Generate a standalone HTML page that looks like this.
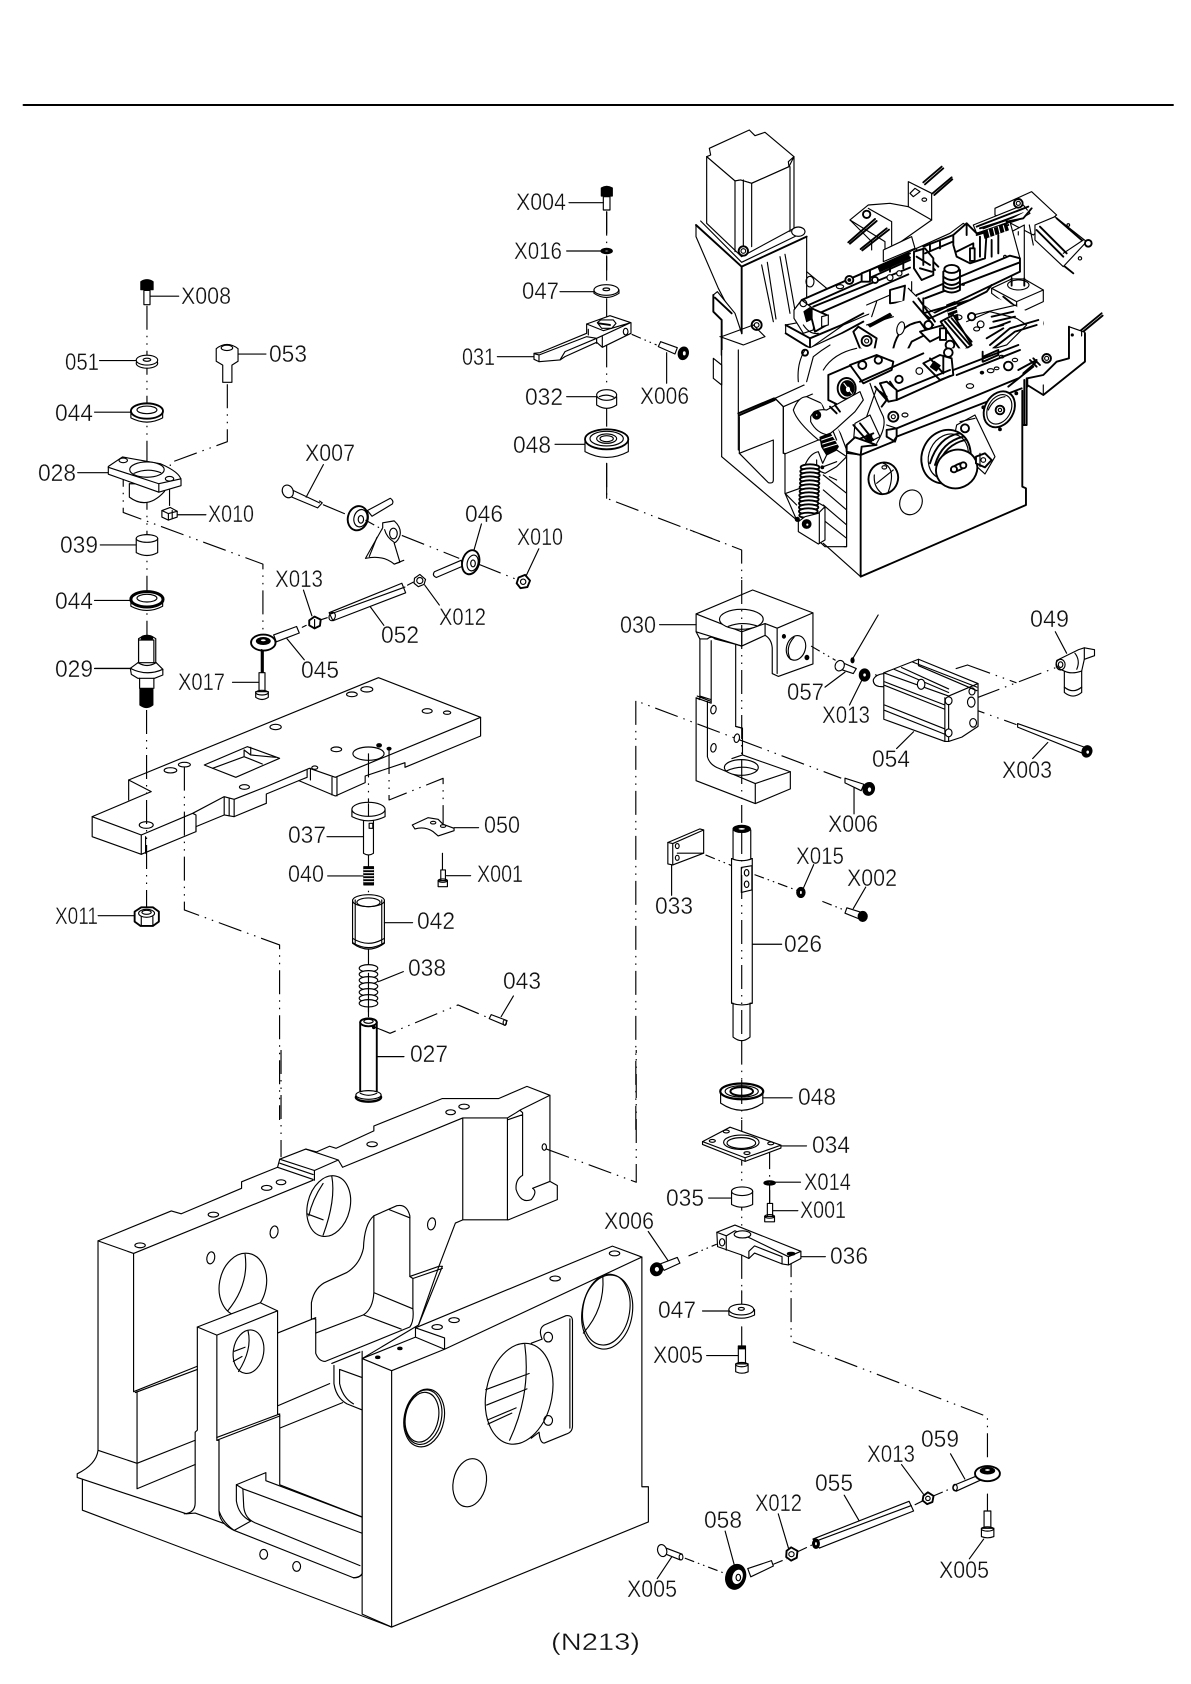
<!DOCTYPE html>
<html><head><meta charset="utf-8"><style>
html,body{margin:0;padding:0;background:#fff}
svg{display:block}
svg *{vector-effect:non-scaling-stroke}
g{fill:none;stroke:#000;stroke-width:1.15;stroke-linejoin:round;stroke-linecap:round}
.w{fill:#fff}.k{fill:#000}.h{stroke-width:1.9}
.c{fill:none;stroke-dasharray:24 6 1.5 6 1.5 6;stroke-linecap:butt}
.d{fill:none;stroke-dasharray:10 4 1.5 4 1.5 4;stroke-linecap:butt}
text{font-family:"Liberation Sans",sans-serif;font-size:24px;fill:#111;stroke:#fff;stroke-width:.35;paint-order:normal;vector-effect:none}
</style></head><body>
<svg xmlns="http://www.w3.org/2000/svg" width="1191" height="1684" viewBox="0 0 1191 1684">
<rect width="1191" height="1684" fill="#fff"/>
<g class="h"><path d="M23.5 105H1173"/></g>

<!-- Z3 big block -->
<g transform="translate(0,1050) scale(.4337,.4044)">
<path class="w" d="M226 472L395 398L418 405L557 342V326L640 290L645 270L705 245L730 252L760 238L775 243L862 200V188L1020 120H1150L1215 90L1268 112V325L1285 335V370L1172 420H1067L1050 428L1012 535L965 680L835 763V1295L450 1145L430 1147L178 1057V1048Q222 1025 226 990Z"/>
<path d="M226 472L308 503L722 322M790 290L1067 168H1170L1190 155L1200 148L1268 112M308 503V845M316 845V1085M226 990L316 1022L450 965M316 1085L450 1025M308 845L455 782M312 847L455 790M640 290L722 320M645 270L725 298V322M705 245L780 272L790 290M725 298L780 272M645 280L722 308M1067 168V420M1170 168V420M1200 150L1205 155V310Q1188 320 1190 345Q1200 380 1225 370Q1240 350 1228 342L1268 325M1205 160L1172 172"/>
<ellipse class="w" cx="758" cy="386" rx="49" ry="76" transform="rotate(12 758 386)"/>
<path d="M765 312Q775 370 745 458M745 330Q720 370 712 410M708 405L745 420"/>
<ellipse class="w" cx="560" cy="580" rx="54" ry="78" transform="rotate(10 560 580)"/>
<path d="M565 505Q575 580 525 645"/>
<path class="w" d="M718 625Q725 585 755 572L800 550Q830 530 838 490Q840 430 862 410L915 385Q938 380 945 410V560L952 565V640Q955 670 945 685L750 770Q735 770 728 750V665L718 665Z"/>
<path d="M862 410V600Q860 640 838 655L728 700M862 600L952 640M838 655L925 690M898 395L945 415M945 560L1012 535H1020L965 680M952 565L1020 540M640 700L728 662"/>
<path d="M505 1140V965M640 880L760 825M645 935L790 872M770 780V825Q775 860 800 875L835 890M765 775L830 747M783 790L835 810M783 790V825Q790 860 815 875"/>
<path class="w" d="M455 685L600 625L640 645V900L645 902V1075L835 1155V1295Q830 1305 815 1305L540 1188Q505 1170 505 1140V965L500 965V705L455 685Z"/>
<path d="M455 685V940L450 945V1120Q450 1145 425 1147M500 705L640 645M500 958L645 900M500 965L645 905M545 1075L613 1045V1065L835 1155M545 1075L560 1085L835 1195M545 1075V1115Q550 1150 578 1165L540 1188M560 1085L562 1130Q565 1160 590 1170L830 1275M505 1140Q515 1170 540 1188"/>
<ellipse class="w" cx="573" cy="746" rx="35" ry="54" transform="rotate(8 573 746)"/>
<path d="M572 695Q582 740 550 795M540 745L565 735M538 770L558 758"/>
<path class="w" d="M835 763L958 710V687L1412 485L1480 512V1080H1495V1167L903 1427L835 1395V763Z"/>
<path d="M835 763L903 793V1427M958 687L1025 712V740L1480 512M903 793L1025 740M958 710L1025 740M190 1062V1138L903 1427"/>
<path d="M835 745V1295Q830 1305 815 1305"/>
<ellipse cx="1400" cy="648" rx="58" ry="92" transform="rotate(8 1400 648)"/><ellipse cx="1398" cy="642" rx="54" ry="88" transform="rotate(8 1398 642)"/>
<path d="M1390 560Q1395 640 1345 700"/>
<path class="w" d="M1250 715Q1240 690 1255 680L1305 657Q1320 655 1320 670V930Q1320 945 1305 950L1255 972Q1245 972 1243 945L1225 960V725Z"/>
<ellipse class="w" cx="1197" cy="850" rx="76" ry="126" transform="rotate(10 1197 850)"/>
<path d="M1210 728Q1225 850 1175 965M1120 840L1220 800M1122 878L1215 838M1124 915L1190 885M1125 925L1180 898M1314 665V935"/>
<ellipse cx="1264" cy="710" rx="10" ry="12"/><ellipse cx="1264" cy="916" rx="10" ry="12"/>
<ellipse cx="978" cy="910" rx="46" ry="72" transform="rotate(10 978 910)"/><ellipse cx="976" cy="908" rx="42" ry="68" transform="rotate(10 976 908)"/><ellipse cx="973" cy="908" rx="38" ry="62" transform="rotate(10 973 908)"/>
<ellipse cx="1083" cy="1070" rx="38" ry="60" transform="rotate(10 1083 1070)"/>
<ellipse cx="323" cy="483" rx="12" ry="6"/><ellipse cx="492" cy="407" rx="12" ry="6"/><ellipse cx="615" cy="341" rx="12" ry="6"/><ellipse cx="648" cy="327" rx="11" ry="6"/><ellipse cx="858" cy="233" rx="12" ry="6"/><ellipse cx="1039" cy="154" rx="11" ry="6"/><ellipse cx="1070" cy="140" rx="12" ry="6"/><ellipse cx="632" cy="450" rx="9" ry="15" transform="rotate(10 632 450)"/><ellipse cx="486" cy="514" rx="9" ry="15" transform="rotate(10 486 514)"/><ellipse cx="995" cy="430" rx="9" ry="15" transform="rotate(10 995 430)"/><ellipse cx="1255" cy="240" rx="5" ry="8"/><ellipse cx="1008" cy="685" rx="12" ry="6"/><ellipse cx="1047" cy="668" rx="12" ry="6"/><ellipse cx="1280" cy="565" rx="12" ry="6"/><ellipse cx="1417" cy="503" rx="12" ry="6"/><ellipse class="k" cx="871" cy="760" rx="5" ry="3"/><ellipse class="k" cx="922" cy="738" rx="5" ry="3"/><ellipse cx="608" cy="1247" rx="9" ry="12"/><ellipse cx="684" cy="1277" rx="9" ry="12"/>
<path class="c" d="M648 0V265M1260 245L1467 327V0"/>
</g>

<!-- Machine, upper half -->
<g transform="translate(690,125) scale(.3333)">
<path class="w" d="M58 70L178 15L195 32L225 22L312 95L295 110L297 125L185 175L152 165L135 168L50 95L62 90Z"/>
<path class="w" d="M50 95V295L155 395L312 310V95L297 125L185 175L152 165L135 168Z"/>
<path d="M135 168V380M160 165V365M185 175V365M300 125V320"/>
<path class="w" stroke="none" d="M18 300L32 288L155 412L345 320L350 335V600L200 660L155 625L85 490L18 335Z"/>
<path d="M18 300V335L85 490L155 625M350 335V540M32 288L155 412L345 320"/>
<path class="h" d="M18 300L155 425L350 335M155 425V625"/>
<path d="M215 420L250 590M232 412L258 582M270 395L300 565M285 388L315 556M350 440L410 490L320 545"/>
<circle class="w h" cx="160" cy="378" r="14"/><circle cx="160" cy="378" r="7"/><ellipse class="w" cx="325" cy="320" rx="20" ry="14"/><circle class="w h" cx="200" cy="600" r="15"/><circle cx="200" cy="600" r="7"/><ellipse cx="360" cy="470" rx="12" ry="16"/>
<path class="w" stroke="none" d="M70 510L82 500L135 565L155 625L95 650V690H70V560Z"/><path class="h" d="M75 518L125 565M70 510V560L95 585V690"/><path d="M70 510L82 500L135 565L155 625"/>
<path d="M95 635L190 600L225 635L160 660L90 635"/>

<!-- top brackets -->
<path class="h" d="M700 172L755 125M705 178L760 130M728 205L785 157M733 210L787 163"/>
<path class="w" d="M655 170L725 205V285L612 365L585 378V350L480 285L535 240L600 235L655 245Z"/>
<path d="M655 245L725 285M605 290V360M535 250L605 290M480 285L545 350V375"/>
<path class="w" d="M660 205L675 190L690 200L670 215Z"/><ellipse cx="703" cy="224" rx="7" ry="5"/>
<circle class="w h" cx="530" cy="268" r="11"/><path class="h" d="M475 352L555 282M480 356L560 288M512 372L590 310M517 376L597 314"/>
<path class="w" d="M580 375L665 335L675 370L580 410Z"/>

<!-- right arm & cylinder -->
<path class="w" d="M915 250L1025 200L1100 270L1030 330L915 270Z"/>
<path class="w" d="M1035 300L1095 275L1190 350L1120 425L1035 345Z"/>
<path class="h" d="M1040 315L1120 395M1050 305L1130 385M1100 280L1175 345M1125 425L1150 445"/>
<path d="M1120 385L1180 345"/><circle class="w h" cx="1195" cy="355" r="10"/><circle cx="1170" cy="400" r="5"/><circle cx="1135" cy="300" r="4"/>
<path class="w" d="M965 320L1003 300V485H965Z"/><path d="M1018 300L1030 360M985 320V330"/>
<path class="w" d="M905 490L965 462L1003 462L1060 495V530L985 565L905 505Z"/><path d="M905 490L980 530V565M980 530L1060 495"/><ellipse class="w" cx="985" cy="480" rx="32" ry="15"/><path class="h" d="M965 460V482M1003 460V482"/>
<path class="h" d="M940 515L1045 600M930 525L1030 610"/><circle class="w h" cx="1048" cy="595" r="11"/>
<path class="w" d="M850 300L1000 240L1020 265L985 285L860 325Z"/><path class="h" d="M860 305L1015 245M880 310L1000 265"/>
<circle class="w h" cx="985" cy="235" r="13"/><circle cx="985" cy="235" r="6"/><path class="w h" d="M950 290L1000 280L1025 250"/>

<!-- central upper rail assembly -->
<path class="w" d="M312 555L335 525L660 380L680 370L780 325L820 295L860 325L960 290L990 400V440L730 565L705 545L680 520L530 570L460 600L360 670L287 625V600L340 590Z"/>
<path class="h" d="M335 525L655 385M345 545L660 405M370 545L660 428M375 570L655 448M287 600L360 640V670L287 625M360 640L455 600L520 565M360 670L455 625L520 590M680 510L960 392L990 400V440M705 520L990 412M705 545L730 565L990 440"/>
<path class="w" d="M312 555L335 525L375 555L370 615L340 625L312 580Z"/>
<path class="k" d="M342 560L360 548L370 580L350 590Z"/><circle cx="340" cy="535" r="10"/>
<path class="w h" d="M365 550L410 570V600L375 620L365 580Z"/><path class="w" d="M395 575L415 570V600L395 605Z"/>
<path d="M340 600Q360 630 385 625"/>
<path class="h" d="M570 425L660 385M575 435L660 398M600 410V440M640 395V430M680 375L735 435M695 375L745 425"/>
<path class="k" d="M565 428L655 388L660 400L570 440Z"/>
<path class="w h" d="M515 445L540 435V470H515Z"/><circle class="w h" cx="478" cy="465" r="12"/><circle class="k" cx="478" cy="465" r="4"/><ellipse cx="450" cy="485" rx="11" ry="6"/><circle class="w h" cx="555" cy="465" r="9"/><circle class="w" cx="600" cy="458" r="9"/><circle class="w" cx="628" cy="445" r="8"/>
<path class="w h" d="M600 495L645 482L640 530L600 535Z"/><path d="M655 490L680 515M665 470V500"/>
<path class="w h" d="M672 380L705 370L730 400V450L695 465L672 430Z"/><path class="h" d="M680 395L720 420M700 375V420M690 430L725 440"/>
<path class="h" d="M700 365L790 330M705 385L800 345M720 355V375M750 350V370"/>
<path class="w h" d="M790 330L830 295L860 325L890 320L885 400L840 415L800 395L790 360Z"/>
<path class="h" d="M800 380L850 355V410M830 295V330M870 335V395M900 320L960 290M905 345V395M925 330V385M860 330L955 300M870 310L950 285"/>
<rect class="w h" x="840" y="370" width="14" height="38"/>
<path class="k" d="M880 320L950 300L955 315L885 340Z"/><path stroke="#fff" d="M895 315L900 335M910 310L915 330M925 305L930 325M940 302L945 320"/>
<path class="w h" d="M760 440Q785 415 810 435V495Q785 510 760 495Z"/><path class="h" d="M760 455Q785 475 810 455M760 470Q785 490 810 470M760 482Q785 500 810 482"/><ellipse class="w h" cx="785" cy="432" rx="22" ry="12"/>
<circle cx="945" cy="395" r="4"/><circle cx="820" cy="478" r="3"/>

<path class="w" stroke="none" d="M360 670L460 625L530 590L540 560L680 515L705 545L740 570L830 545L900 510L1060 580V610L1000 650L840 690H300V650Z"/>
<path class="h" d="M905 480L890 500L840 525L700 565V520M700 565L720 580L840 525"/>
<path d="M530 540L600 510M545 575L560 530"/>
<path class="k" d="M535 600L600 565L605 572L540 606Z"/><path d="M530 600L610 575"/>
<path class="h" d="M670 530L730 600M685 520L735 590"/>
<path class="w h" d="M610 670Q625 600 690 590L715 625L665 650L645 690H610Z"/><ellipse class="w" cx="632" cy="610" rx="11" ry="20" transform="rotate(15 632 610)"/>
<path class="w h" d="M490 620L505 605L560 640L550 690L510 670Z"/><circle class="w h" cx="530" cy="648" r="15"/><circle cx="530" cy="648" r="6"/>
<path class="w h" d="M690 620L760 600L770 625L720 650Z"/><circle class="w h" cx="715" cy="600" r="12"/>
<path class="k" d="M770 540L795 530L805 585L780 590Z"/><path stroke="#fff" d="M772 550L800 540M775 562L802 552M778 574L804 564"/>
<path class="w h" d="M752 590L790 570L845 660L815 680Z"/><path class="h" d="M765 590L830 665M775 585L838 658M785 580L845 650"/>
<rect class="w h" x="750" y="610" width="18" height="35"/>
<path d="M830 590L900 560L980 580L1010 600L950 660L880 680M850 570L980 540"/>
<circle class="w h" cx="845" cy="575" r="11"/><circle class="w" cx="872" cy="598" r="10"/><ellipse cx="805" cy="577" rx="11" ry="7"/><ellipse cx="860" cy="612" rx="9" ry="6"/>
<path class="h" d="M905 575L970 560M910 590L975 575M920 605L960 590M900 610L940 600"/>
<path class="h" d="M900 660L960 610L1045 585M910 670L975 620L1040 600M890 640L940 610"/>
<circle class="w h" cx="780" cy="660" r="13"/>
<!-- right lower bracket top -->
<path class="h" d="M1150 635L1235 565M1153 642L1238 572"/>
<path class="w" stroke="none" d="M1137 605L1185 622V690H1137Z"/><path d="M1137 605L1185 622V690M1137 605V690M1175 620V690"/><circle class="k" cx="1147" cy="630" r="3"/>
</g>

<!-- Machine, lower half -->
<g transform="translate(690,350) scale(.3333)">
<path class="w" stroke="none" d="M95 0H145V190L255 145L375 90L400 115L470 305V590L400 580L320 510L95 320Z"/>
<path d="M95 0V320M145 0V190"/>
<path class="w" d="M70 25L95 45V105L70 85Z"/>
<path d="M145 190V300M95 320L320 510"/>
<path class="h" d="M145 190L252 145M147 196L254 150"/>
<path class="w" d="M148 310L250 270V390Q250 402 235 398Z"/><path d="M148 200V310"/>
<path class="w" d="M255 145L375 90L400 115L470 300V590H405L320 510L285 430V310L280 310V170Z"/>
<path d="M255 145L280 170V310M280 170L395 120M284 312L385 270M288 430L330 415M285 430L320 465"/>
<path d="M400 375L470 430M400 420L470 480M400 465L470 525M400 510L470 565M470 300V590H462"/>
<path class="w" d="M310 180Q325 140 350 140L395 160L440 270L385 270Q320 215 310 180Z"/>
<!-- upper mechanism -->
<path class="w" stroke="none" d="M330 90L400 40L410 -5H1010V85L620 260L590 240L550 290L480 290L440 230L395 160Z"/>
<path d="M325 95Q320 40 345 0M350 95L370 20Q395 0 420 -15M400 60Q430 10 500 -5"/><circle class="h" cx="345" cy="8" r="9"/>
<path class="h" d="M415 75V150M415 75L520 30M415 150L445 165"/>
<path class="w h" d="M480 45L560 15L610 35L605 60L520 100Z"/><circle class="w h" cx="517" cy="45" r="12"/><circle class="w h" cx="565" cy="30" r="11"/>
<path class="h" d="M510 95L700 10M570 100L620 150L780 78M580 100L620 125L780 60M600 95L620 125V150"/>
<path class="h" d="M700 40L750 90L790 75L785 25L750 15L700 40M720 25L760 70M760 20V70"/>
<rect class="k" x="725" y="38" width="22" height="20" transform="rotate(35 735 48)"/>
<circle class="w h" cx="627" cy="88" r="11"/><circle class="w" cx="688" cy="63" r="10"/><circle class="w h" cx="775" cy="8" r="13"/>
<path class="h" d="M880 35L925 15M880 20L925 0M878 5V35M925 0V15M790 60L985 -15M800 75L990 0"/>
<path class="w h" d="M590 95L620 120V150L595 155L570 100Z"/><path class="h" d="M555 110L590 150L575 170M570 125L590 140"/>
<ellipse class="w h" cx="470" cy="115" rx="27" ry="31"/><ellipse class="k" cx="472" cy="115" rx="20" ry="23"/><ellipse cx="474" cy="118" rx="8" ry="10" fill="#fff"/><path stroke="#fff" d="M462 100L485 130"/>
<ellipse class="w" cx="492" cy="166" rx="12" ry="14"/>
<path class="w" d="M362 200Q375 175 410 180L510 125L520 150L495 185L440 235L415 255Q380 250 362 215Z"/>
<path class="h" d="M420 170L440 190M435 165L450 185"/><circle class="k" cx="380" cy="195" r="12"/><circle cx="380" cy="195" r="4" fill="#fff"/>
<path class="k" d="M390 262L420 250L445 290L430 312L410 315L395 290Z"/><path stroke="#fff" d="M395 270L430 258M398 282L437 270M402 294L442 282"/>
<path class="w" d="M495 220L540 195L570 260L520 285L490 280Z"/><path class="h" d="M490 225L530 270M510 220L550 270M500 270L550 250"/><circle class="k" cx="500" cy="275" r="10"/><rect class="k" x="530" y="255" width="15" height="20"/>
<path d="M560 115L530 200M540 100Q560 160 580 200Q590 230 560 280"/>
<circle class="w h" cx="610" cy="200" r="15"/><circle cx="610" cy="200" r="6"/><ellipse cx="645" cy="195" rx="9" ry="6"/>
<path class="w" d="M410 315L440 300L470 320L440 350L405 370L385 362Q365 355 345 345Q360 310 385 305L398 340Z"/>
<path d="M400 350L440 335M380 330L380 360"/><circle class="k" cx="397" cy="352" r="4"/>
<path d="M418 380L440 390"/>

<!-- spring -->
<g class="h"><ellipse class="w" cx="360" cy="352" rx="28" ry="9"/><ellipse class="w" cx="360" cy="364" rx="29" ry="9"/><ellipse class="w" cx="360" cy="376" rx="29" ry="9"/><ellipse class="w" cx="359" cy="388" rx="29" ry="9"/><ellipse class="w" cx="359" cy="400" rx="29" ry="9"/><ellipse class="w" cx="358" cy="412" rx="29" ry="9"/><ellipse class="w" cx="358" cy="424" rx="29" ry="9"/><ellipse class="w" cx="357" cy="436" rx="29" ry="9"/><ellipse class="w" cx="357" cy="448" rx="29" ry="9"/><ellipse class="w" cx="356" cy="460" rx="29" ry="9"/><ellipse class="w" cx="356" cy="472" rx="29" ry="9"/><ellipse class="w" cx="355" cy="484" rx="28" ry="9"/><ellipse class="w" cx="354" cy="496" rx="26" ry="8"/></g>
<path class="w" d="M325 515L345 500L385 490L405 470V570L385 582L325 545Z"/><circle class="k" cx="350" cy="522" r="13"/><circle cx="352" cy="524" r="5" fill="#fff"/><circle class="k" cx="322" cy="508" r="6"/><path d="M388 460L405 470M388 490V580"/>

<!-- front wall -->
<path class="w" d="M470 310L512 315L995 120V415H1008V465L512 680L470 640Z" stroke="none"/>
<path d="M470 310L512 315M470 305V590M400 580L512 680"/>
<path class="h" d="M512 315V680L1008 465V415L997 410V122"/>
<path class="h" d="M512 315L610 275L620 260M620 260L995 115M620 235L985 85"/>
<path class="w h" d="M470 285L495 262L560 285L515 290L512 315L470 305Z" stroke-width="1.2"/>
<path class="h" d="M590 240L620 235V260L615 275L590 260Z"/><path d="M590 225L620 235"/>
<path class="h" d="M955 110L1030 50"/>
<ellipse cx="840" cy="108" rx="11" ry="7"/><ellipse cx="902" cy="62" rx="10" ry="6"/><ellipse class="k" cx="876" cy="68" rx="5" ry="4"/><ellipse cx="920" cy="55" rx="7" ry="4"/><circle class="w h" cx="955" cy="48" r="13"/><ellipse cx="975" cy="30" rx="8" ry="5"/><ellipse cx="935" cy="20" rx="7" ry="4"/>
<path class="h" d="M1000 225H1010V85M1003 90V225"/>
<path class="w h" d="M1012 110V85L1060 75L1100 35L1137 25V-70M1185 -50V35L1060 135L1012 105"/><path d="M1060 105V135"/>
<path class="h" d="M985 60L1040 30M1000 70L1040 35"/><circle class="w h" cx="1070" cy="25" r="13"/><circle cx="1070" cy="25" r="6"/><path class="h" d="M1020 30L1040 50M1030 25L1050 45"/>
<!-- spools -->
<path class="w" d="M800 225L855 195L915 320L885 372L855 345L795 250Z"/><circle class="w h" cx="825" cy="235" r="12"/><path d="M810 215L855 205"/>
<ellipse class="w h" cx="768" cy="320" rx="72" ry="82" transform="rotate(25 768 320)"/><ellipse cx="775" cy="320" rx="58" ry="70" transform="rotate(25 775 320)"/><path class="h" d="M720 340Q745 260 810 250M735 345Q755 275 820 260M745 345Q765 285 825 270"/>
<ellipse class="w h" cx="800" cy="357" rx="63" ry="57" transform="rotate(-25 800 357)"/><ellipse class="w h" cx="805" cy="352" rx="24" ry="9" transform="rotate(-25 805 352)"/><circle class="w h" cx="792" cy="358" r="9"/><circle class="w h" cx="820" cy="346" r="9"/>
<path class="w h" d="M858 320L885 310L905 330L885 352L858 340Z"/><path d="M870 310V350"/><circle cx="880" cy="330" r="7"/>
<ellipse class="w h" cx="928" cy="178" rx="43" ry="57" transform="rotate(30 928 178)"/><ellipse cx="928" cy="178" rx="34" ry="47" transform="rotate(30 928 178)"/><circle class="w h" cx="930" cy="180" r="13"/><circle cx="930" cy="180" r="5"/><path d="M895 180Q910 145 945 140"/><circle class="k" cx="979" cy="130" r="4"/><circle class="k" cx="930" cy="238" r="4"/><circle class="k" cx="880" cy="172" r="4"/>
<!-- knob -->
<ellipse class="w h" cx="580" cy="385" rx="44" ry="48" transform="rotate(20 580 385)"/><path d="M580 340Q620 355 595 425M553 375Q550 410 575 430M610 360L560 400"/><ellipse cx="583" cy="352" rx="7" ry="5"/>
<ellipse cx="663" cy="457" rx="33" ry="38" transform="rotate(25 663 457)"/>
<path class="c" d="M0 540L155 600V700"/>
</g>

<!-- Z1 upper-left parts -->
<g transform="translate(0,80) scale(.3827)">
<path class="c" d="M384 590V1450M594 795V945L445 1000V1030M322 1000V1130L687 1265V1450M443 1050V1115"/>
<path class="k" d="M368 527Q384 517 400 527V548H368Z"/><path class="w" d="M376 550H392V587H376Z"/><path d="M392 565H467M260 733H356M247 868H342M203 1026H283M463 1136H538M262 1215H356M247 1360H342M622 716H695M247 1538H345"/>
<ellipse class="w" cx="384" cy="740" rx="28" ry="13"/><ellipse class="w" cx="384" cy="732" rx="28" ry="13"/><ellipse cx="384" cy="731" rx="10" ry="4"/>
<path class="w" d="M565 702Q593 680 622 702V735L606 745V790H582V745L565 735Z"/><ellipse cx="593" cy="700" rx="15" ry="7"/>
<g id="b1"><path class="w" d="M342 865V883Q384 905 425 883V865"/><ellipse class="w h" cx="384" cy="865" rx="42" ry="20" stroke-width="3"/><ellipse class="w" cx="384" cy="862" rx="26" ry="10"/></g>
<path class="w" d="M338 1055V1090Q385 1125 430 1075V1055Z"/>
<path class="w" d="M283 1010L320 985L420 1003Q470 1025 473 1045V1060L415 1077L283 1030Z"/>
<path d="M283 1012L415 1055L473 1042M415 1055V1077"/><ellipse class="w" cx="384" cy="1018" rx="45" ry="20"/><path d="M350 1028Q384 1012 420 1026"/><ellipse cx="322" cy="994" rx="11" ry="6"/><ellipse cx="443" cy="1042" rx="11" ry="6"/>
<path class="w" d="M423 1125L445 1117L463 1127V1142L440 1150L423 1142Z"/><path d="M423 1125L440 1133V1150M440 1133L463 1127M450 1125V1145"/>
<path class="w" d="M356 1198Q384 1178 412 1198V1235Q384 1250 356 1235Z"/><ellipse class="w" cx="384" cy="1198" rx="28" ry="10"/>
<path class="w" d="M342 1357V1375Q384 1397 425 1375V1357"/><ellipse class="w" cx="384" cy="1357" rx="42" ry="20" stroke-width="3"/><ellipse class="w" cx="384" cy="1354" rx="26" ry="10"/>
<path class="w" d="M362 1460Q385 1442 407 1460V1530H362Z"/><ellipse class="k" cx="384" cy="1458" rx="15" ry="7"/>
<path d="M765 1072L835 1105M758 1088L830 1118M835 1100L842 1105L830 1118M845 1005L800 1090M845 1110L900 1133"/><ellipse class="w" cx="752" cy="1075" rx="14" ry="17" transform="rotate(-25 752 1075)"/>
<path class="w" d="M960 1125L1020 1093Q1030 1100 1025 1108L972 1140Z"/>
<ellipse class="w h" cx="935" cy="1145" rx="26" ry="32" transform="rotate(15 935 1145)"/><ellipse cx="942" cy="1145" rx="17" ry="23" transform="rotate(15 942 1145)"/><ellipse cx="943" cy="1148" rx="7" ry="10"/>
<path class="w" d="M1000 1157L1030 1152Q1050 1170 1045 1190Q1040 1205 1030 1210L1045 1260L1030 1265Q1000 1240 955 1250L1000 1170Z"/><ellipse cx="1028" cy="1185" rx="10" ry="14"/><path d="M1005 1175Q1010 1195 1030 1208M985 1195L965 1245M1030 1265L1055 1255"/>
<path class="c" d="M1050 1190L1200 1250M1250 1265L1350 1305"/><path class="d" d="M955 1150L1000 1175"/>
<path class="w" d="M1135 1285L1205 1255L1210 1270L1140 1300Q1128 1295 1135 1285Z"/><ellipse class="w h" cx="1230" cy="1260" rx="22" ry="32" transform="rotate(15 1230 1260)"/><ellipse cx="1235" cy="1262" rx="14" ry="21" transform="rotate(15 1235 1262)"/><ellipse cx="1236" cy="1263" rx="6" ry="9"/><path d="M1258 1160L1238 1230"/>
<path class="w" d="M1083 1302L1097 1292L1112 1305L1108 1318L1093 1324L1082 1315Z"/><circle cx="1097" cy="1308" r="8"/><path d="M1110 1320L1148 1372M1065 1320L1080 1312"/>
<path class="w h" d="M1355 1300L1372 1293L1385 1308L1378 1325L1360 1328L1350 1315Z"/><circle cx="1367" cy="1311" r="7"/><path d="M1408 1225L1375 1295"/>
<path class="w" d="M860 1392L1050 1315L1060 1340L870 1413Z"/><path d="M865 1395L1058 1325"/><ellipse cx="868" cy="1402" rx="8" ry="11" transform="rotate(20 868 1402)"/><path d="M968 1377L1003 1425"/>
<path class="w" d="M715 1450L775 1428L782 1445L722 1468Z"/><ellipse class="w h" cx="688" cy="1470" rx="32" ry="21"/><ellipse class="k" cx="688" cy="1466" rx="18" ry="9"/><ellipse cx="688" cy="1464" rx="8" ry="4" fill="#fff"/><path d="M750 1460L795 1515M793 1333L815 1400M790 1430L800 1425M840 1410L855 1405"/>
<path class="w h" d="M808 1412L822 1402L838 1410L836 1426L822 1433L808 1425Z"/><path d="M822 1410V1430"/>
<path class="h" d="M687 1492V1548"/>
</g>

<!-- Z5 plate & center parts -->
<g transform="translate(60,640) scale(.3317,.3333)">
<path class="w" d="M237 0V70H283V0Z"/>
<path class="w" d="M212 85L235 68H290L310 88V105L285 115H235L215 103Z"/><path d="M235 68Q262 85 290 68M212 85Q262 110 310 88M105 85H215M240 115V145M283 115V145"/>
<path class="k" d="M241 145H280V195Q262 210 241 195Z"/>
<path d="M520 127H598"/><path class="w" d="M600 98H618V155H600Z"/><path class="w" d="M590 155H628V172Q609 185 590 172Z"/><ellipse cx="609" cy="158" rx="19" ry="7"/><path class="h" d="M608 30V95"/>
<path class="w" d="M207 420L960 113L1268 232V288L1040 382V368L920 408V428L830 468L720 422L622 462V490L525 530L495 525L410 560V575L245 643L97 590V530L275 455L207 420Z"/>
<path d="M97 530L245 585L400 520L495 470L525 478L622 440L745 388L752 385L830 412L1268 232M245 585V643M258 590V640M495 470V525M510 475V528M525 478V530M820 412V465M835 412V468M745 388V412M755 385V420M207 420V480M720 422L745 412M400 520L410 525V575"/>
<path class="w" d="M435 375L565 320L662 355L530 412Z"/><path d="M460 385L555 350L610 372M555 330L575 345V322M555 350V330M575 345L650 352"/>
<ellipse cx="880" cy="163" rx="16" ry="7"/><ellipse cx="925" cy="148" rx="18" ry="8"/><ellipse cx="650" cy="261" rx="17" ry="8"/><ellipse cx="1107" cy="213" rx="15" ry="7"/><ellipse cx="1167" cy="218" rx="11" ry="5"/><ellipse cx="833" cy="328" rx="16" ry="7"/><ellipse cx="930" cy="341" rx="47" ry="20"/><ellipse class="k" cx="962" cy="316" rx="7" ry="5"/><ellipse class="k" cx="992" cy="326" rx="6" ry="4"/><ellipse cx="333" cy="391" rx="19" ry="8"/><ellipse cx="375" cy="374" rx="18" ry="7"/><ellipse cx="556" cy="441" rx="15" ry="7"/><ellipse cx="768" cy="383" rx="9" ry="5"/><ellipse cx="260" cy="555" rx="21" ry="10"/>
<path class="c" d="M261 210V800M375 380V810L662 915V1440M930 340V490M930 640V1140M992 330V480L1155 415V560"/>
<path d="M1153 640V690"/>
<path class="w" d="M915 530H945V640Q930 650 915 640Z"/><path class="w" d="M880 510V530Q930 555 980 530V510"/><ellipse class="w" cx="930" cy="508" rx="50" ry="21"/><path d="M932 550H943V565H932ZM805 590H915M807 708H915"/><path class="c" d="M930 490V530"/>
<rect class="k" x="916" y="680" width="29" height="55"/><path stroke="#fff" d="M916 689H945M916 698H945M916 707H945M916 716H945M916 725H945"/>
<path class="w" d="M882 782V910Q930 945 978 910V782Z"/><ellipse class="w" cx="930" cy="782" rx="48" ry="18"/><ellipse cx="930" cy="787" rx="35" ry="13"/><path d="M882 895Q930 925 978 895M882 908Q930 938 978 908M890 780V910M970 780V910M978 848H1063"/>
<path d="M960 1025L1035 995M955 1250H1037M1367 1068L1330 1130"/>
<ellipse class="w" cx="930" cy="985" rx="28" ry="11"/><ellipse class="w" cx="930" cy="1003" rx="28" ry="11"/><ellipse class="w" cx="930" cy="1021" rx="28" ry="11"/><ellipse class="w" cx="930" cy="1039" rx="28" ry="11"/><ellipse class="w" cx="930" cy="1057" rx="28" ry="11"/><ellipse class="w" cx="930" cy="1075" rx="28" ry="11"/><ellipse class="w" cx="930" cy="1090" rx="28" ry="11"/>
<path d="M930 1000V1130"/>
<path class="w h" d="M905 1147V1360H955V1147Z"/><ellipse class="w h" cx="930" cy="1147" rx="25" ry="12"/><ellipse cx="930" cy="1144" rx="14" ry="6"/>
<ellipse class="w" cx="930" cy="1372" rx="38" ry="13" stroke-width="2.4"/><ellipse class="w" cx="930" cy="1365" rx="38" ry="13"/><path class="w" d="M905 1360Q930 1372 955 1360"/>
<circle class="k" cx="946" cy="1162" r="4"/>
<path class="c" d="M945 1160L995 1180L1200 1095L1295 1135" stroke-dasharray="50 6 1.5 6 1.5 6"/>
<path class="w" d="M1300 1124L1348 1142L1342 1156L1294 1136Z"/><ellipse cx="1341" cy="1148" rx="5" ry="8"/>
<path class="w" d="M1062 555L1110 533L1140 538L1155 553L1188 565V572L1140 588L1125 575Q1100 558 1070 567Z"/><ellipse cx="1125" cy="548" rx="8" ry="4"/><ellipse cx="1155" cy="558" rx="8" ry="4"/><path d="M1188 563H1262M1165 707H1238M115 827H225"/>
<path class="w" d="M1148 690H1162V722H1148Z"/><path class="w" d="M1140 722H1168V740H1140Z"/><ellipse cx="1154" cy="722" rx="14" ry="5"/>
<path class="w h" d="M225 815L245 802H280L298 815V845L280 858H243L225 845Z"/><ellipse cx="261" cy="820" rx="24" ry="12"/><ellipse cx="261" cy="817" rx="14" ry="6"/><path d="M245 830V858M280 830V858"/>
</g>

<!-- Z7 top centre parts -->
<g transform="translate(440,170) scale(.3333)">
<path class="c" d="M500 125V240M500 260V340M500 385V650M500 700V770"/>
<path d="M500 125V190M500 258V300M500 880V985"/>
<path class="c" d="M500 880V985L840 1115"/>
<path class="k" d="M484 54Q500 44 517 54V78H484Z"/><path class="w" d="M490 80H510V120H490Z"/><path d="M387 98H490M380 243H484M360 365H462M172 560H282M380 680H470M345 823H435M680 548V640"/>
<ellipse class="k" cx="500" cy="243" rx="17" ry="8"/><ellipse cx="500" cy="243" rx="7" ry="3" fill="#fff"/>
<path class="w" d="M462 360V370Q499 395 537 370V360"/><ellipse class="w" cx="499" cy="360" rx="37" ry="16"/><ellipse cx="499" cy="358" rx="10" ry="4"/>
<path class="w" d="M282 550L300 548L440 490V462L510 437L573 458V490L487 532L470 517L375 560L360 570L297 575L282 568Z"/>
<path d="M285 552L297 555V575M297 555L440 500L470 505V520M360 570L375 545L470 505M470 505L572 458M487 530V500M440 462L490 482L572 458M445 478V495"/>
<path class="w" d="M472 458L482 450H520L528 460L515 475H485Z"/><ellipse cx="557" cy="485" rx="7" ry="10"/><path class="h" d="M475 460L510 465"/>
<path class="w" d="M470 680V705Q500 725 530 705V680Z"/><ellipse class="w" cx="500" cy="675" rx="30" ry="16"/><path d="M478 680Q500 670 522 682"/>
<path class="w" d="M435 810V845Q500 880 565 845V810Z"/><ellipse class="w" cx="500" cy="808" rx="65" ry="30" stroke-width="1.8"/><ellipse cx="500" cy="806" rx="50" ry="22"/><ellipse cx="500" cy="806" rx="30" ry="14"/><ellipse cx="500" cy="806" rx="20" ry="9"/>
<path class="d" d="M575 493L650 525"/>
<path class="w" d="M662 515L712 533L705 552L655 530Z"/><ellipse class="k" cx="730" cy="550" rx="15" ry="19" transform="rotate(15 730 550)"/><ellipse cx="733" cy="550" rx="6" ry="8" fill="#fff"/>
</g>

<!-- Z4 right-mid parts -->
<g transform="translate(600,580) scale(.3769,.3571)">
<path class="w" d="M255 95L405 28L565 92V235L473 270L457 262V190Q455 165 438 155L376 185L360 180V410L378 415V490L505 537V585L412 626L255 562V330L265 335V165L255 145Z"/>
<path d="M255 95L376 145L438 122L470 135L565 92M376 145V185M255 145L376 185M438 122V155M470 135V262M265 165H285Q295 155 305 165L360 180M295 170V338M265 325L295 335V345L255 330M258 325L295 340M285 340V495Q290 515 310 525L412 570L505 537M412 570V626M378 490L350 500M360 410L378 415"/>
<ellipse class="w" cx="375" cy="110" rx="58" ry="28"/><path d="M340 130Q375 115 415 128"/>
<ellipse cx="520" cy="190" rx="25" ry="35" transform="rotate(15 520 190)"/><path d="M515 160Q490 190 505 222"/><ellipse class="k" cx="488" cy="158" rx="4" ry="5"/><ellipse class="k" cx="549" cy="217" rx="5" ry="6"/>
<ellipse cx="301" cy="363" rx="7" ry="12" transform="rotate(10 301 363)"/><ellipse cx="301" cy="470" rx="7" ry="12" transform="rotate(10 301 470)"/><ellipse cx="363" cy="443" rx="7" ry="12" transform="rotate(10 363 443)"/>
<ellipse class="w" cx="375" cy="525" rx="45" ry="22"/><path d="M335 535Q375 515 415 532"/>
<path d="M158 125H255M668 225L738 98M597 300L650 258M662 350L695 280M832 425L787 472M1208 145L1238 205M1188 455L1148 500M674 580V655M190 798V883M403 1020H482M567 797L540 862M705 860L672 920M433 1450H510M945 248L975 238"/>
<path class="c" d="M376 0V680M95 1540V338L640 555M975 238L1105 288M1000 330L1210 245M960 350L1105 405M376 1290V1410"/>
<path class="d" d="M560 185L625 225M730 265L745 272M280 770L350 800M410 825L525 870M590 900L650 925"/>
<path class="w" d="M640 230L680 248L672 262L632 248Z"/><ellipse class="w" cx="636" cy="240" rx="12" ry="15" transform="rotate(20 636 240)"/><ellipse class="k" cx="670" cy="225" rx="4" ry="7"/>
<ellipse class="k" cx="702" cy="266" rx="14" ry="17"/><ellipse cx="702" cy="266" rx="5" ry="6" fill="#fff"/>
<path class="w" d="M725 280Q730 265 753 262L765 300L740 298Q725 295 725 280Z"/>
<path class="w" d="M753 260L845 222L1003 290V410L960 440L925 452H915L753 390Z"/>
<path d="M753 260L925 325L1003 290M780 250L925 315M830 230L1000 300M925 325V452M915 330V452M755 350L915 417M755 365L915 432M755 285L915 350M755 295L915 362M845 222V240L1000 310M800 245L925 305"/>
<ellipse class="w" cx="852" cy="292" rx="10" ry="14"/><ellipse cx="985" cy="342" rx="10" ry="14"/><ellipse cx="987" cy="312" rx="8" ry="10"/><ellipse cx="990" cy="400" rx="9" ry="12"/><ellipse class="w" cx="925" cy="338" rx="9" ry="11"/><ellipse class="w" cx="925" cy="428" rx="9" ry="11"/>
<path class="w" d="M1232 255H1278V315Q1255 335 1232 315Z"/><path d="M1232 300Q1255 320 1278 300"/>
<path class="w" d="M1212 225L1270 195L1285 190L1312 195V212L1285 222L1278 255Q1250 265 1232 255Q1205 245 1212 225Z"/>
<ellipse cx="1222" cy="237" rx="12" ry="15"/><ellipse cx="1222" cy="237" rx="6" ry="8"/><path d="M1260 205Q1275 225 1265 250M1285 190V222"/>
<path class="w" d="M1108 402L1285 468L1280 485L1108 412Z"/><ellipse class="k" cx="1292" cy="480" rx="13" ry="16" transform="rotate(15 1292 480)"/><ellipse cx="1294" cy="482" rx="5" ry="6" fill="#fff"/>
<path class="w" d="M650 555L700 572L693 590L650 568Z"/><ellipse class="k" cx="713" cy="585" rx="15" ry="18" transform="rotate(15 713 585)"/><ellipse cx="715" cy="587" rx="6" ry="8" fill="#fff"/>
<path class="w" d="M180 735L265 697L275 700V765L193 798L180 795Z"/><path d="M180 735L193 738V798M193 738L275 700M205 765L275 765"/><ellipse cx="205" cy="745" rx="5" ry="7"/><ellipse cx="205" cy="778" rx="5" ry="7"/>
<path class="w" d="M353 700H400V780H404V1185H398V1280Q376 1300 353 1280V1185H349V780H353Z"/><ellipse class="k" cx="376" cy="697" rx="23" ry="10"/><ellipse cx="376" cy="697" rx="10" ry="4" fill="#fff"/>
<path d="M349 780Q376 792 404 780M349 1185Q376 1195 404 1185M375 805L403 800V868L375 875Z"/><ellipse cx="389" cy="820" rx="6" ry="9"/><ellipse cx="389" cy="852" rx="6" ry="9"/>
<path class="c" d="M376 700V1290"/>
<ellipse class="k" cx="533" cy="875" rx="11" ry="14"/><ellipse cx="533" cy="875" rx="4" ry="6" fill="#fff"/>
<path class="w" d="M655 918L697 932L690 950L650 933Z"/><ellipse class="k" cx="697" cy="942" rx="12" ry="14"/>
<path class="w" d="M320 1432V1465Q376 1505 432 1465V1432Z"/><ellipse class="w" cx="376" cy="1432" rx="57" ry="22" stroke-width="2.2"/><ellipse cx="376" cy="1432" rx="44" ry="16"/><ellipse cx="376" cy="1432" rx="30" ry="12" stroke-width="2"/>
<path class="c" d="M376 1400V1520"/>
</g>

<!-- Z6 lower right parts -->
<g transform="translate(600,1120) scale(.3769,.3597)">
<path class="c" d="M376 0V60M376 60V300M376 375V480M450 70V230M507 370V615L1028 825V950"/>
<path class="d" d="M235 378L310 345M460 1235L495 1220M525 1200L565 1180M835 1070L858 1058M885 1045L930 1025M225 1218L335 1262"/>
<path d="M376 475V515M376 575V630M1028 1040V1085M450 180V232"/>
<path class="w" d="M272 60L345 20L480 70V78L385 115L272 68Z"/><path d="M272 60L385 105L480 70M385 105V115"/><ellipse class="w" cx="375" cy="62" rx="47" ry="20"/><ellipse cx="375" cy="64" rx="38" ry="15"/><ellipse cx="335" cy="32" rx="8" ry="4"/><ellipse cx="453" cy="65" rx="8" ry="4"/><ellipse cx="298" cy="58" rx="8" ry="4"/><ellipse cx="390" cy="92" rx="8" ry="4"/>
<path d="M480 72H548M465 173H532M458 252H525M288 217H349M533 380H598M272 531H342M283 655H367M128 310L180 390M930 928L968 998M1018 1165L980 1220M800 958L858 1040M648 1043L688 1115M473 1095L500 1190M332 1143L357 1240M190 1215L152 1275"/>
<ellipse class="k" cx="450" cy="175" rx="15" ry="6"/><ellipse cx="450" cy="175" rx="5" ry="2" fill="#fff"/>
<path class="w" d="M444 232H458V268H444Z"/><path class="w" d="M437 268H463V283H437Z"/><ellipse cx="450" cy="268" rx="13" ry="5"/>
<path class="w" d="M349 198V235Q376 250 405 235V198Z"/><ellipse class="w" cx="377" cy="198" rx="28" ry="12"/>
<path class="w" d="M310 312L358 292L533 365V385L500 403L483 400L410 370L395 385L375 375L312 352Z"/>
<path d="M310 312L335 322L358 308L500 380L533 365M335 322V362M483 380V400M500 380V403M395 385V365L410 350L483 380"/><ellipse class="w" cx="378" cy="318" rx="22" ry="10"/><ellipse cx="324" cy="340" rx="7" ry="10"/><ellipse class="k" cx="507" cy="372" rx="10" ry="4"/>
<path class="w" d="M342 527V542Q375 560 410 542V527"/><ellipse class="w" cx="375" cy="527" rx="33" ry="15"/><ellipse cx="375" cy="525" rx="8" ry="4"/>
<path class="k" d="M367 628H386V636H367Z"/><path class="w" d="M367 636H386V678H367Z"/><path class="w" d="M360 678H393V700Q376 708 360 700Z"/><ellipse cx="376" cy="680" rx="16" ry="6"/>
<path class="w" d="M160 400L205 382L212 398L170 418Z"/><ellipse class="k" cx="150" cy="415" rx="16" ry="18" transform="rotate(15 150 415)"/><ellipse cx="151" cy="415" rx="7" ry="8" fill="#fff"/>
<path class="w" d="M940 1015L1010 985L1012 1000L945 1032Q932 1025 940 1015Z"/><ellipse class="w h" cx="1028" cy="983" rx="33" ry="21"/><ellipse class="k" cx="1028" cy="975" rx="19" ry="9"/><ellipse cx="1028" cy="973" rx="8" ry="4" fill="#fff"/><ellipse cx="942" cy="1022" rx="6" ry="9"/>
<path class="w" d="M1019 1087H1037V1135H1019Z"/><path class="w" d="M1012 1135H1045V1158Q1028 1165 1012 1158Z"/><ellipse cx="1028" cy="1137" rx="16" ry="6"/>
<path class="w h" d="M858 1045L870 1035L885 1045L882 1062L868 1068L856 1058Z"/><circle cx="870" cy="1052" r="6"/>
<path class="w" d="M565 1165L820 1060L832 1087L582 1190Z"/><path d="M570 1172L826 1072"/><ellipse class="k" cx="573" cy="1178" rx="9" ry="13"/><ellipse cx="573" cy="1178" rx="4" ry="6" fill="#fff"/>
<path class="w h" d="M495 1198L507 1188L524 1198L522 1217L507 1225L494 1215Z"/><circle cx="508" cy="1207" r="7"/>
<path class="w" d="M392 1247L455 1225L460 1240L400 1270Z"/><ellipse class="k" cx="360" cy="1270" rx="26" ry="35" transform="rotate(15 360 1270)"/><ellipse cx="365" cy="1270" rx="15" ry="22" fill="#fff" transform="rotate(15 365 1270)"/><ellipse cx="367" cy="1272" rx="6" ry="9"/>
<path class="w" d="M175 1190L218 1207L213 1223L170 1205Z"/><ellipse class="w" cx="165" cy="1197" rx="12" ry="17" transform="rotate(-15 165 1197)"/><ellipse class="w" cx="215" cy="1215" rx="5" ry="8"/>
</g>

<!-- labels -->
<text x="181" y="304" textLength="50" lengthAdjust="spacingAndGlyphs">X008</text>
<text x="269" y="362" textLength="38" lengthAdjust="spacingAndGlyphs">053</text>
<text x="65" y="370" textLength="34" lengthAdjust="spacingAndGlyphs">051</text>
<text x="55" y="421" textLength="38" lengthAdjust="spacingAndGlyphs">044</text>
<text x="38" y="481" textLength="38" lengthAdjust="spacingAndGlyphs">028</text>
<text x="208" y="522" textLength="46" lengthAdjust="spacingAndGlyphs">X010</text>
<text x="60" y="553" textLength="38" lengthAdjust="spacingAndGlyphs">039</text>
<text x="55" y="609" textLength="38" lengthAdjust="spacingAndGlyphs">044</text>
<text x="55" y="677" textLength="38" lengthAdjust="spacingAndGlyphs">029</text>
<text x="305" y="461" textLength="50" lengthAdjust="spacingAndGlyphs">X007</text>
<text x="465" y="522" textLength="38" lengthAdjust="spacingAndGlyphs">046</text>
<text x="517" y="545" textLength="46" lengthAdjust="spacingAndGlyphs">X010</text>
<text x="275" y="587" textLength="48" lengthAdjust="spacingAndGlyphs">X013</text>
<text x="439" y="625" textLength="47" lengthAdjust="spacingAndGlyphs">X012</text>
<text x="381" y="643" textLength="38" lengthAdjust="spacingAndGlyphs">052</text>
<text x="301" y="678" textLength="38" lengthAdjust="spacingAndGlyphs">045</text>
<text x="178" y="690" textLength="47" lengthAdjust="spacingAndGlyphs">X017</text>
<text x="516" y="210" textLength="50" lengthAdjust="spacingAndGlyphs">X004</text>
<text x="514" y="259" textLength="48" lengthAdjust="spacingAndGlyphs">X016</text>
<text x="522" y="299" textLength="37" lengthAdjust="spacingAndGlyphs">047</text>
<text x="462" y="365" textLength="33" lengthAdjust="spacingAndGlyphs">031</text>
<text x="525" y="405" textLength="38" lengthAdjust="spacingAndGlyphs">032</text>
<text x="640" y="404" textLength="49" lengthAdjust="spacingAndGlyphs">X006</text>
<text x="513" y="453" textLength="38" lengthAdjust="spacingAndGlyphs">048</text>
<text x="620" y="633" textLength="36" lengthAdjust="spacingAndGlyphs">030</text>
<text x="1030" y="627" textLength="39" lengthAdjust="spacingAndGlyphs">049</text>
<text x="787" y="700" textLength="37" lengthAdjust="spacingAndGlyphs">057</text>
<text x="822" y="723" textLength="48" lengthAdjust="spacingAndGlyphs">X013</text>
<text x="872" y="767" textLength="38" lengthAdjust="spacingAndGlyphs">054</text>
<text x="1002" y="778" textLength="50" lengthAdjust="spacingAndGlyphs">X003</text>
<text x="828" y="832" textLength="50" lengthAdjust="spacingAndGlyphs">X006</text>
<text x="796" y="864" textLength="48" lengthAdjust="spacingAndGlyphs">X015</text>
<text x="847" y="886" textLength="50" lengthAdjust="spacingAndGlyphs">X002</text>
<text x="655" y="914" textLength="38" lengthAdjust="spacingAndGlyphs">033</text>
<text x="784" y="952" textLength="38" lengthAdjust="spacingAndGlyphs">026</text>
<text x="798" y="1105" textLength="38" lengthAdjust="spacingAndGlyphs">048</text>
<text x="288" y="843" textLength="38" lengthAdjust="spacingAndGlyphs">037</text>
<text x="484" y="833" textLength="36" lengthAdjust="spacingAndGlyphs">050</text>
<text x="288" y="882" textLength="36" lengthAdjust="spacingAndGlyphs">040</text>
<text x="477" y="882" textLength="46" lengthAdjust="spacingAndGlyphs">X001</text>
<text x="417" y="929" textLength="38" lengthAdjust="spacingAndGlyphs">042</text>
<text x="408" y="976" textLength="38" lengthAdjust="spacingAndGlyphs">038</text>
<text x="503" y="989" textLength="38" lengthAdjust="spacingAndGlyphs">043</text>
<text x="410" y="1062" textLength="38" lengthAdjust="spacingAndGlyphs">027</text>
<text x="55" y="924" textLength="43" lengthAdjust="spacingAndGlyphs">X011</text>
<text x="812" y="1153" textLength="38" lengthAdjust="spacingAndGlyphs">034</text>
<text x="804" y="1190" textLength="47" lengthAdjust="spacingAndGlyphs">X014</text>
<text x="666" y="1206" textLength="38" lengthAdjust="spacingAndGlyphs">035</text>
<text x="800" y="1218" textLength="46" lengthAdjust="spacingAndGlyphs">X001</text>
<text x="604" y="1229" textLength="50" lengthAdjust="spacingAndGlyphs">X006</text>
<text x="830" y="1264" textLength="38" lengthAdjust="spacingAndGlyphs">036</text>
<text x="658" y="1318" textLength="38" lengthAdjust="spacingAndGlyphs">047</text>
<text x="653" y="1363" textLength="50" lengthAdjust="spacingAndGlyphs">X005</text>
<text x="921" y="1447" textLength="38" lengthAdjust="spacingAndGlyphs">059</text>
<text x="867" y="1462" textLength="48" lengthAdjust="spacingAndGlyphs">X013</text>
<text x="815" y="1491" textLength="38" lengthAdjust="spacingAndGlyphs">055</text>
<text x="755" y="1511" textLength="47" lengthAdjust="spacingAndGlyphs">X012</text>
<text x="704" y="1528" textLength="38" lengthAdjust="spacingAndGlyphs">058</text>
<text x="627" y="1597" textLength="50" lengthAdjust="spacingAndGlyphs">X005</text>
<text x="939" y="1578" textLength="50" lengthAdjust="spacingAndGlyphs">X005</text>
<text x="551" y="1650" textLength="89" lengthAdjust="spacingAndGlyphs">(N213)</text>
</svg>
</body></html>
